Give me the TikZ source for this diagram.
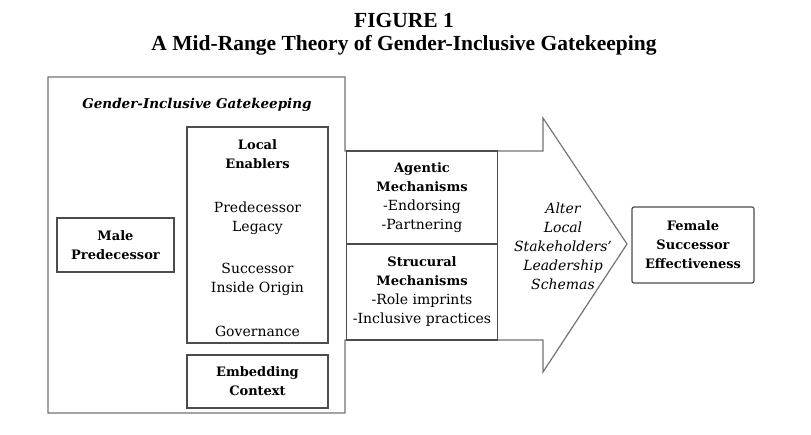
\documentclass[tikz,border=0pt]{standalone}
\usepackage{fontspec}
\setmainfont{DejaVu Serif}
\newfontfamily\titlefont{Liberation Serif}
\usetikzlibrary{positioning}

\begin{document}
\begin{tikzpicture}[
  x=1pt, y=-1pt,
  box/.style={draw=black!70, line width=1.2pt, inner sep=0pt,
    align=center, font=\fontsize{13}{19}\selectfont\bfseries},
  mech/.style={box, font=\fontsize{14}{19}\selectfont,
    minimum width=151pt},
  txt/.style={align=center, font=\fontsize{14}{19}\selectfont},
  outline/.style={draw=black!55, line width=1.2pt, line join=miter},
]
\useasboundingbox (0,0) rectangle (811,435);

% === Title ===
\node[font=\titlefont\fontsize{21.5}{23}\selectfont\bfseries, align=center]
  (title) at (404,34) {FIGURE 1\\A Mid-Range Theory of Gender-Inclusive Gatekeeping};

% === Gatekeeping frame and arrow ===
\coordinate (tl) at (48,77);
\coordinate (tip) at (627,244);
\draw[outline] (tl) -- (345,77) -- (345,151) -- (543,151) -- (543,118)
  -- (tip) -- (543,372) -- (543,340) -- (345,340) -- (345,413)
  -- (48,413) -- cycle;

\node[font=\fontsize{13.5}{19}\selectfont\bfseries\itshape] (gate) at (197,105)
  {Gender-Inclusive Gatekeeping};

% === Left boxes ===
\node[box, minimum width=117pt, minimum height=54pt] (male) at (115.5,245)
  {Male\\Predecessor};

\node[box, minimum width=141pt, minimum height=216pt] (enablers) at (257.5,235) {};
\node[txt, font=\fontsize{13}{19}\selectfont\bfseries] (local) at (257.5,154.5)
  {Local\\Enablers};
\node[txt] (legacy) at (257.5,218.5) {Predecessor\\Legacy};
\node[txt] (origin) at (257.5,279.5) {Successor\\Inside Origin};
\node[txt] (gov) at (257.5,331) {Governance};

\node[box, minimum width=141pt, minimum height=53pt] (embed) at (257.5,381.5)
  {Embedding\\Context};

% === Mechanisms ===
\node[mech, minimum height=93pt] (agentic) at (422,197.5)
  {{\fontsize{13}{19}\selectfont\textbf{Agentic}}\\{\fontsize{13}{19}\selectfont\textbf{Mechanisms}}\\-Endorsing\\-Partnering};
\node[mech, minimum height=96pt] (struct) at (422,292)
  {{\fontsize{13}{19}\selectfont\textbf{Strucural}}\\{\fontsize{13}{19}\selectfont\textbf{Mechanisms}}\\-Role imprints\\-Inclusive practices};

\node[txt, font=\fontsize{14}{19}\selectfont\itshape] (alter) at (563,246)
  {Alter\\Local\\Stakeholders'\\Leadership\\Schemas};

% === Outcome ===
\node[box, rounded corners=2pt, minimum width=122pt, minimum height=76pt]
  (female) at (693,245) {Female\\Successor\\Effectiveness};

\end{tikzpicture}
\end{document}
